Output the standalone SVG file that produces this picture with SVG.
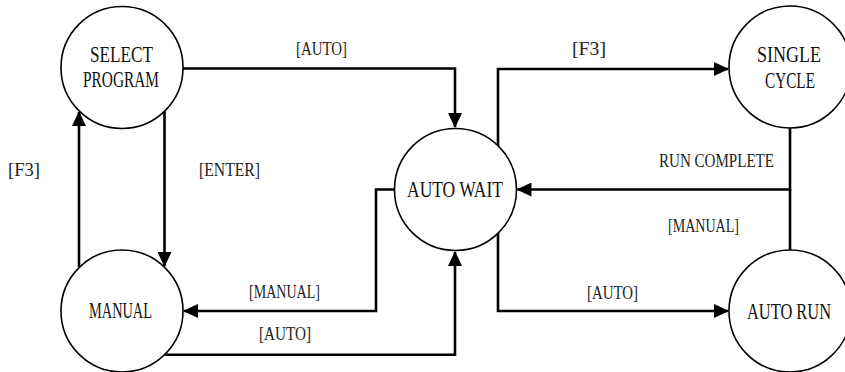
<svg xmlns="http://www.w3.org/2000/svg" width="845" height="372" viewBox="0 0 845 372">
<style>
.node circle{fill:#fff;stroke:#000;stroke-width:1.6}
.nt{font-family:"Liberation Serif",serif;font-size:23px;fill:#111}
.lb{font-family:"Liberation Serif",serif;font-size:19px;fill:#222}
#connectors path{fill:none;stroke:#000;stroke-width:2.6}
</style>
<defs>
<marker id="arr" viewBox="0 0 15 14" refX="14" refY="7" markerWidth="15" markerHeight="14" markerUnits="userSpaceOnUse" orient="auto">
<path d="M0,0 L15,7 L0,14 z" fill="#000"/>
</marker>
</defs>
<rect width="845" height="372" fill="#fff"/>
<g id="connectors">
<path d="M183,68.5 H455 V127" marker-end="url(#arr)"/>
<path d="M164.5,111 V266" marker-end="url(#arr)"/>
<path d="M79,267 V112" marker-end="url(#arr)"/>
<path d="M395,189.5 H376 V311 H184" marker-end="url(#arr)"/>
<path d="M165,354.8 H455 V252" marker-end="url(#arr)"/>
<path d="M498,146 V69 H728" marker-end="url(#arr)"/>
<path d="M498,233 V311 H728" marker-end="url(#arr)"/>
<path d="M790,128 V189.5 H517.5" marker-end="url(#arr)"/>
<path d="M790,250 V189.5"/>
</g>
<g id="labels">
<text class="lb" x="296" y="55" textLength="51" lengthAdjust="spacingAndGlyphs">[AUTO]</text>
<text class="lb" x="572" y="55" textLength="34" lengthAdjust="spacingAndGlyphs">[F3]</text>
<text class="lb" x="8" y="176" textLength="32" lengthAdjust="spacingAndGlyphs">[F3]</text>
<text class="lb" x="199" y="176" textLength="61" lengthAdjust="spacingAndGlyphs">[ENTER]</text>
<text class="lb" x="659" y="167" textLength="115" lengthAdjust="spacingAndGlyphs">RUN COMPLETE</text>
<text class="lb" x="668" y="231.5" textLength="71" lengthAdjust="spacingAndGlyphs">[MANUAL]</text>
<text class="lb" x="249" y="298" textLength="71" lengthAdjust="spacingAndGlyphs">[MANUAL]</text>
<text class="lb" x="259" y="340" textLength="52" lengthAdjust="spacingAndGlyphs">[AUTO]</text>
<text class="lb" x="587" y="298.5" textLength="51" lengthAdjust="spacingAndGlyphs">[AUTO]</text>
</g>
<g id="select-program" class="node">
<circle cx="122" cy="67.5" r="61"/>
<text class="nt" x="90" y="62" textLength="63" lengthAdjust="spacingAndGlyphs">SELECT</text>
<text class="nt" x="83" y="87" textLength="76" lengthAdjust="spacingAndGlyphs">PROGRAM</text>
</g>
<g id="manual" class="node">
<circle cx="122" cy="311" r="61"/>
<text class="nt" x="89" y="318" textLength="63" lengthAdjust="spacingAndGlyphs">MANUAL</text>
</g>
<g id="auto-wait" class="node">
<circle cx="455.5" cy="189.5" r="61"/>
<text class="nt" x="407" y="197" textLength="96" lengthAdjust="spacingAndGlyphs">AUTO WAIT</text>
</g>
<g id="single-cycle" class="node">
<circle cx="790" cy="67" r="61"/>
<text class="nt" x="757" y="62" textLength="64" lengthAdjust="spacingAndGlyphs">SINGLE</text>
<text class="nt" x="765" y="88" textLength="50" lengthAdjust="spacingAndGlyphs">CYCLE</text>
</g>
<g id="auto-run" class="node">
<circle cx="790" cy="311" r="61"/>
<text class="nt" x="747" y="319" textLength="84" lengthAdjust="spacingAndGlyphs">AUTO RUN</text>
</g>
</svg>
